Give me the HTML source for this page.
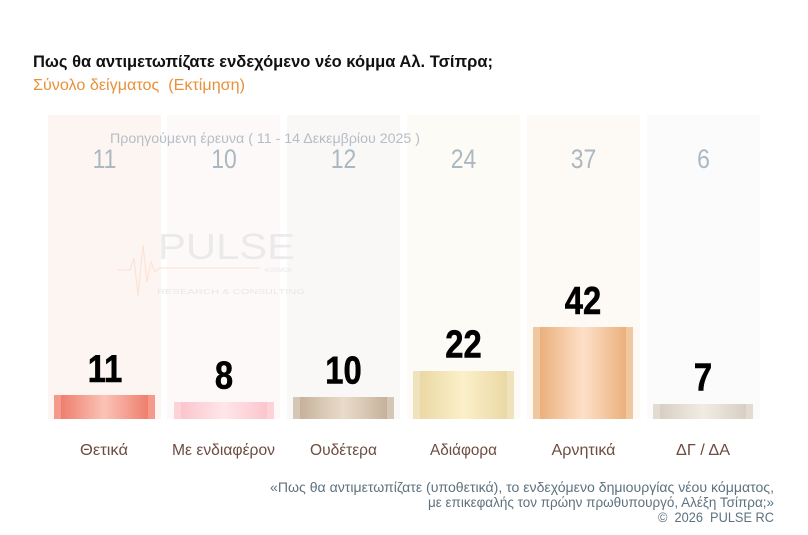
<!DOCTYPE html>
<html><head><meta charset="utf-8"><style>
html,body{margin:0;padding:0;background:#fff;}
svg{display:block;}
text{font-family:"Liberation Sans","Noto Sans CJK JP",sans-serif;}
</style></head><body>
<svg width="808" height="535" viewBox="0 0 808 535" xmlns="http://www.w3.org/2000/svg">
<defs>
<linearGradient id="g1" x1="0" x2="1" y1="0" y2="0">
<stop offset="0" stop-color="#f4998b"/><stop offset="0.07" stop-color="#f4998b"/><stop offset="0.07" stop-color="#ee7f6e"/><stop offset="0.5" stop-color="#fbc3b7"/><stop offset="0.93" stop-color="#ee7f6e"/><stop offset="0.93" stop-color="#f4998b"/><stop offset="1" stop-color="#f4998b"/>
</linearGradient>
<linearGradient id="g2" x1="0" x2="1" y1="0" y2="0">
<stop offset="0" stop-color="#fdd3d8"/><stop offset="0.07" stop-color="#fdd3d8"/><stop offset="0.07" stop-color="#fcc5cc"/><stop offset="0.5" stop-color="#fee6ea"/><stop offset="0.93" stop-color="#fcc5cc"/><stop offset="0.93" stop-color="#fdd3d8"/><stop offset="1" stop-color="#fdd3d8"/>
</linearGradient>
<linearGradient id="g3" x1="0" x2="1" y1="0" y2="0">
<stop offset="0" stop-color="#d5c7b6"/><stop offset="0.07" stop-color="#d5c7b6"/><stop offset="0.07" stop-color="#c6b29b"/><stop offset="0.5" stop-color="#eadcca"/><stop offset="0.93" stop-color="#c6b29b"/><stop offset="0.93" stop-color="#d5c7b6"/><stop offset="1" stop-color="#d5c7b6"/>
</linearGradient>
<linearGradient id="g4" x1="0" x2="1" y1="0" y2="0">
<stop offset="0" stop-color="#efe2bd"/><stop offset="0.07" stop-color="#efe2bd"/><stop offset="0.07" stop-color="#ead9a5"/><stop offset="0.5" stop-color="#fcf0c9"/><stop offset="0.93" stop-color="#ead9a5"/><stop offset="0.93" stop-color="#efe2bd"/><stop offset="1" stop-color="#efe2bd"/>
</linearGradient>
<linearGradient id="g5" x1="0" x2="1" y1="0" y2="0">
<stop offset="0" stop-color="#f0c8a0"/><stop offset="0.07" stop-color="#f0c8a0"/><stop offset="0.07" stop-color="#ebb07c"/><stop offset="0.5" stop-color="#fde0c9"/><stop offset="0.93" stop-color="#ebb07c"/><stop offset="0.93" stop-color="#f0c8a0"/><stop offset="1" stop-color="#f0c8a0"/>
</linearGradient>
<linearGradient id="g6" x1="0" x2="1" y1="0" y2="0">
<stop offset="0" stop-color="#e2dbd0"/><stop offset="0.07" stop-color="#e2dbd0"/><stop offset="0.07" stop-color="#d8cfc2"/><stop offset="0.5" stop-color="#f1ece3"/><stop offset="0.93" stop-color="#d8cfc2"/><stop offset="0.93" stop-color="#e2dbd0"/><stop offset="1" stop-color="#e2dbd0"/>
</linearGradient>
</defs>

<!-- Title -->
<text x="33" y="67" font-size="17" font-weight="bold" fill="#111" textLength="460" lengthAdjust="spacingAndGlyphs">Πως θα αντιμετωπίζατε ενδεχόμενο νέο κόμμα Αλ. Τσίπρα;</text>
<text x="33" y="90" font-size="16" fill="#e8913a" textLength="212" lengthAdjust="spacingAndGlyphs">Σύνολο δείγματος&#160; (Εκτίμηση)</text>

<!-- Column backgrounds -->
<rect x="48" y="115" width="113" height="304" fill="#fdf5f2"/>
<rect x="167" y="115" width="113" height="304" fill="#fdf9f8"/>
<rect x="287" y="115" width="113" height="304" fill="#faf8f7"/>
<rect x="407" y="115" width="113" height="304" fill="#fdfbf6"/>
<rect x="527" y="115" width="113" height="304" fill="#fdf9f4"/>
<rect x="647" y="115" width="113" height="304" fill="#fbfbfb"/>

<!-- Watermark -->
<g opacity="0.9">
<polyline points="118,270 130,270 134,258 138,296 143,245 147,282 151,262 155,272 160,268 260,268" fill="none" stroke="#fbe3d2" stroke-width="1.2"/>
<text x="158" y="259" font-size="36" fill="#e9e9e9" textLength="137" lengthAdjust="spacingAndGlyphs">PULSE</text>
<text x="265" y="272" font-size="6" font-weight="bold" fill="#ececec">KOSMON</text>
<text x="157" y="294" font-size="7.5" fill="#e6e6e6" textLength="148" lengthAdjust="spacingAndGlyphs">RESEARCH &amp; CONSULTING</text>
</g>

<!-- Previous survey -->
<text x="110" y="143" font-size="14" fill="#b4bec6" textLength="310" lengthAdjust="spacingAndGlyphs">Προηγούμενη έρευνα ( 11 - 14 Δεκεμβρίου 2025 )</text>
<g font-size="27" fill="#aab8c2" text-anchor="middle">
<text transform="translate(104.5,168) scale(0.85,1)">11</text>
<text transform="translate(224,168) scale(0.85,1)">10</text>
<text transform="translate(343.5,168) scale(0.85,1)">12</text>
<text transform="translate(463.5,168) scale(0.85,1)">24</text>
<text transform="translate(583.5,168) scale(0.85,1)">37</text>
<text transform="translate(703.5,168) scale(0.85,1)">6</text>
</g>

<!-- Bars -->
<rect x="54" y="395" width="101" height="24" fill="url(#g1)"/>
<rect x="174" y="402" width="100" height="17" fill="url(#g2)"/>
<rect x="293" y="397" width="101" height="22" fill="url(#g3)"/>
<rect x="413" y="371" width="101" height="48" fill="url(#g4)"/>
<rect x="533" y="327" width="100" height="92" fill="url(#g5)"/>
<rect x="653" y="404" width="100" height="15" fill="url(#g6)"/>

<!-- Value labels -->
<g font-size="39" font-weight="bold" fill="#000" stroke="#000" stroke-width="0.6" text-anchor="middle">
<text transform="translate(105,382) scale(0.84,1)">11</text>
<text transform="translate(224,388.5) scale(0.84,1)">8</text>
<text transform="translate(343.5,383.5) scale(0.84,1)">10</text>
<text transform="translate(463.5,357.5) scale(0.84,1)">22</text>
<text transform="translate(583,314) scale(0.84,1)">42</text>
<text transform="translate(703,390.5) scale(0.84,1)">7</text>
</g>

<!-- Category labels -->
<g font-size="16" fill="#6d4c41" text-anchor="middle">
<text x="104" y="455" textLength="48" lengthAdjust="spacingAndGlyphs">Θετικά</text>
<text x="223.5" y="455" textLength="103" lengthAdjust="spacingAndGlyphs">Με ενδιαφέρον</text>
<text x="343.5" y="455" textLength="67" lengthAdjust="spacingAndGlyphs">Ουδέτερα</text>
<text x="463.5" y="455" textLength="67" lengthAdjust="spacingAndGlyphs">Αδιάφορα</text>
<text x="583.5" y="455" textLength="64" lengthAdjust="spacingAndGlyphs">Αρνητικά</text>
<text x="703" y="455" textLength="54" lengthAdjust="spacingAndGlyphs">ΔΓ / ΔΑ</text>
</g>

<!-- Footer -->
<g font-size="14" fill="#5d7280" text-anchor="end">
<text x="774" y="492" textLength="504" lengthAdjust="spacingAndGlyphs">«Πως θα αντιμετωπίζατε (υποθετικά), το ενδεχόμενο δημιουργίας νέου κόμματος,</text>
<text x="774" y="507" textLength="346" lengthAdjust="spacingAndGlyphs">με επικεφαλής τον πρώην πρωθυπουργό, Αλέξη Τσίπρα;»</text>
<text x="774" y="522" textLength="116" lengthAdjust="spacingAndGlyphs">©&#160; 2026&#160; PULSE RC</text>
</g>
</svg>
</body></html>
